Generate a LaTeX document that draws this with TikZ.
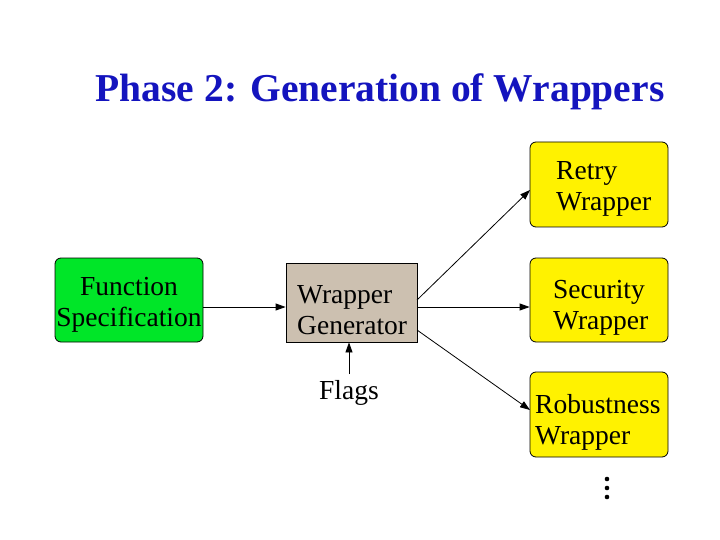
\documentclass[tikz,border=0pt]{standalone}
\usepackage{fontspec}
\setmainfont{Liberation Serif}
\usetikzlibrary{arrows.meta}
\begin{document}
\begin{tikzpicture}[x=1pt,y=-1pt,
  box/.style={draw=black,line width=0.8pt,rounded corners=6pt},
  txt/.style={font=\fontsize{27.5}{31}\selectfont,align=left,inner sep=0pt},
  arr/.style={-{Triangle[length=10pt,width=7pt]},line width=0.8pt}]
\useasboundingbox (0,0) rectangle (720,540);
\node[font=\fontsize{39.5}{44}\selectfont\bfseries,text={rgb,255:red,20;green,20;blue,190}] (title) at (380,92) {Phase 2: Generation of Wrappers};
\node[box,fill={rgb,255:red,0;green,230;blue,40},minimum width=148pt,minimum height=84pt] (fs) at (129,300) {};
\node[txt,align=center] (fst) at (129,305) {Function\\Specification};
\node[box,rounded corners=0pt,fill={rgb,255:red,204;green,192;blue,176},minimum width=131pt,minimum height=79pt] (gen) at (351.5,302.5) {};
\node[txt,anchor=west] (gent) at (297,310) {Wrapper\\Generator};
\node[box,fill=yellow,minimum width=138pt,minimum height=85pt] (retry) at (599,184.5) {};
\node[txt,anchor=west] (retryt) at (556,189) {Retry\\Wrapper};
\node[box,fill=yellow,minimum width=138pt,minimum height=84pt] (sec) at (599,300) {};
\node[txt,anchor=west] (sect) at (553,308) {Security\\Wrapper};
\node[box,fill=yellow,minimum width=138pt,minimum height=85pt] (rob) at (599,414.5) {};
\node[txt,anchor=west] (robt) at (535,422) {Robustness\\Wrapper};
\node[txt] (flags) at (349,393) {Flags};
\draw[arr] (fs.east |- 0,307) -- (gen.west |- 0,307);
\draw[arr] (349,374) -- (gen.south -| 349,374);
\coordinate (g1) at (417,300);
\coordinate (g2) at (417,330);
\coordinate (r1) at (530,190);
\coordinate (rb) at (530,410);
\draw[arr] (g1) -- (r1);
\draw[arr] (gen.east |- 0,307) -- (sec.west |- 0,307);
\draw[arr] (g2) -- (rb);
\foreach \yy in {479,488,497} \fill (607,\yy) circle (2.3pt);
\end{tikzpicture}
\end{document}
